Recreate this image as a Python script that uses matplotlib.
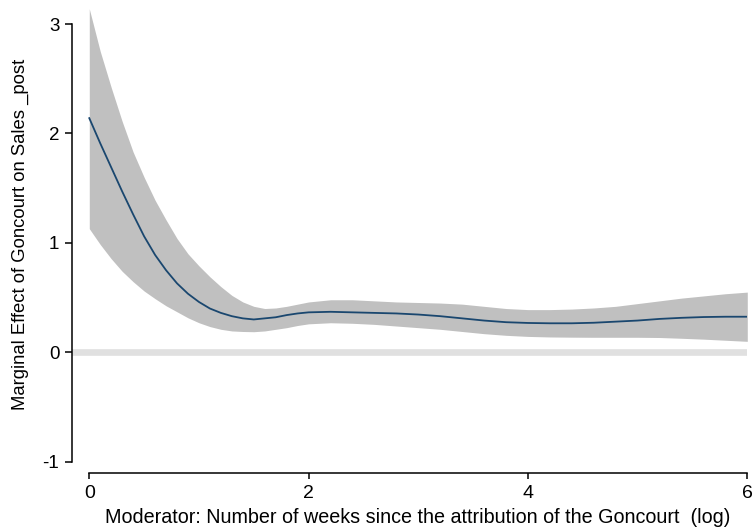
import matplotlib
matplotlib.use('Agg')
import matplotlib.pyplot as plt

# moderator values (log weeks) and estimated marginal effect with its band
weeks_log = [0, 0.1, 0.2, 0.3, 0.4, 0.5, 0.6, 0.7, 0.8, 0.9, 1.0, 1.1, 1.2, 1.3,
             1.4, 1.5, 1.6, 1.7, 1.8, 1.9, 2.0, 2.2, 2.4, 2.6, 2.8, 3.0, 3.2,
             3.4, 3.6, 3.8, 4.0, 4.2, 4.4, 4.6, 4.8, 5.0, 5.2, 5.4, 5.6, 5.8, 6.0]
effect = [2.14, 1.91, 1.69, 1.47, 1.26, 1.06, 0.89, 0.75, 0.63, 0.535, 0.46,
          0.40, 0.36, 0.33, 0.31, 0.30, 0.31, 0.32, 0.34, 0.355, 0.365, 0.37,
          0.365, 0.36, 0.355, 0.345, 0.33, 0.31, 0.29, 0.275, 0.268, 0.265,
          0.265, 0.27, 0.28, 0.29, 0.305, 0.315, 0.322, 0.325, 0.325]
upper = [3.14, 2.75, 2.42, 2.11, 1.83, 1.60, 1.39, 1.21, 1.04, 0.90, 0.79,
         0.69, 0.60, 0.52, 0.46, 0.42, 0.40, 0.405, 0.42, 0.44, 0.46, 0.48,
         0.48, 0.47, 0.46, 0.455, 0.45, 0.44, 0.42, 0.40, 0.39, 0.39, 0.395,
         0.405, 0.42, 0.445, 0.47, 0.495, 0.515, 0.535, 0.55]
lower = [1.13, 0.985, 0.855, 0.74, 0.645, 0.56, 0.49, 0.425, 0.37, 0.315, 0.27,
         0.235, 0.21, 0.195, 0.19, 0.188, 0.195, 0.21, 0.225, 0.245, 0.26,
         0.27, 0.265, 0.255, 0.24, 0.225, 0.21, 0.19, 0.17, 0.155, 0.145,
         0.14, 0.138, 0.137, 0.137, 0.137, 0.135, 0.128, 0.12, 0.11, 0.10]

x_ticks = [0, 2, 4, 6]
y_ticks = [-1, 0, 1, 2, 3]

plt.rcParams['font.family'] = ['Liberation Sans', 'DejaVu Sans']

fig = plt.figure(figsize=(7.53, 5.31), dpi=100)
ax = fig.add_axes([0.096, 0.1087, 0.8964, 0.8913])

# zero reference line
ax.axhline(0, color='#e0e0e0', linewidth=4.8, zorder=0)
ax.fill_between(weeks_log, lower, upper, color='#c0c0c0', linewidth=0, zorder=1)
ax.plot(weeks_log, effect, color='#1a476f', linewidth=1.3, zorder=2)

ax.set_xlim(-0.155, 6.0)
ax.set_ylim(-1.106, 3.22)

for s in ['top', 'right']:
    ax.spines[s].set_visible(False)
ax.spines['left'].set_bounds(-1, 3)
ax.spines['bottom'].set_bounds(0, 6)
ax.spines['left'].set_linewidth(1.1)
ax.spines['bottom'].set_linewidth(1.1)

ax.set_xticks(x_ticks)
ax.set_yticks(y_ticks)
ax.set_xticklabels([str(t) for t in x_ticks])
ax.set_yticklabels([str(t) for t in y_ticks])
ax.tick_params(axis='x', length=4.3, width=1.1, pad=4, labelsize=14)
ax.tick_params(axis='y', length=5, width=1.1, pad=4.3, labelsize=13.5)

ax.set_xlabel('Moderator: Number of weeks since the attribution of the Goncourt  (log)',
              fontsize=14.2, va='baseline')
ax.xaxis.set_label_coords(0.512, -0.105)
ax.set_ylabel('Marginal Effect of Goncourt on Sales _post', fontsize=13.3, va='center')
ax.yaxis.set_label_coords(-0.0767, 0.5056)

plt.savefig('out.png', dpi=100)
plt.close()
